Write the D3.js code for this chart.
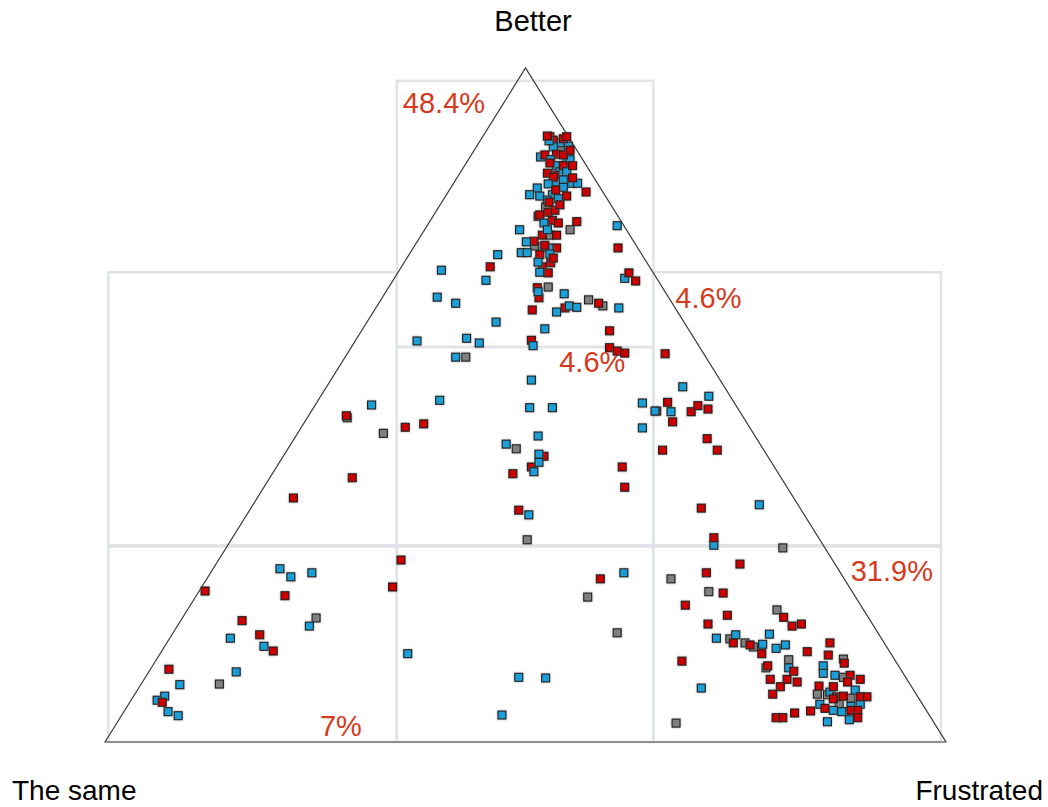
<!DOCTYPE html>
<html>
<head>
<meta charset="utf-8">
<script src="https://cdn.jsdelivr.net/npm/d3@7"></script>
<style>
  html, body { margin: 0; padding: 0; background: #ffffff; }
  svg { display: block; font-family: "Liberation Sans", Arial, sans-serif; }
</style>
</head>
<body>
<svg id="chart" width="1048" height="807"></svg>
<script>
// ---------------- DATA ----------------
const cornerLabels = ["Better", "The same", "Frustrated"];

// region boundaries (in chart units 0-100)
const regionNames = ["top", "leftMid", "center", "rightMid", "bottomLeft", "bottomCenter", "bottomRight"];
const regionX0 = [34.7, 0.4, 34.7, 65.2, 0.4, 34.7, 65.2];
const regionX1 = [65.2, 34.7, 65.2, 99.4, 34.7, 65.2, 99.4];
const regionY0 = [58.6, 29.0, 29.0, 29.0, 0, 0, 0];
const regionY1 = [98.1, 69.7, 58.6, 69.7, 29.2, 29.2, 29.2];
const regionShare = ["48.4%", "", "4.6%", "4.6%", "7%", "", "31.9%"];

const redPoints = [
  [52.9,89.8],[53.3,89.3],[54.5,89.5],[52.6,89.9],[54.9,89.8],[52.3,87.1],[53.7,87.2],[54.5,87.1],
  [52.9,85.9],[54.5,85.5],[55.6,85.5],[52.6,84.4],[53.5,84.1],[53.3,83.8],[55.6,83.7],[57.2,81.6],
  [52.7,78.6],[51.5,78.0],[53.2,77.4],[53.9,77.0],[51.7,78.2],[53.5,78.9],[56.1,77.2],[52.0,75.2],
  [53.7,75.2],[51.0,74.3],[53.7,73.3],[51.7,72.3],[53.0,71.1],[52.0,70.5],[52.7,69.6],[51.4,67.4],
  [51.6,65.9],[45.8,70.5],[61.0,73.3],[62.3,69.6],[63.1,68.4],[58.7,65.1],[54.7,64.4],[50.8,64.1],
  [60.0,61.0],[50.7,59.6],[60.0,58.5],[60.9,58.0],[61.8,57.7],[66.6,57.6],
  [53.6,81.9],[54.9,81.0],[52.8,80.1],[54.1,79.7],[52.3,73.7],[53.3,71.8],[55.3,87.8],
  [35.7,46.7],[37.9,47.2],[52.2,42.4],[50.7,40.8],[48.5,39.8],[49.2,34.4],[61.5,40.8],[61.8,37.8],
  [66.9,50.4],[65.6,49.1],[69.7,49.0],[70.5,49.9],[71.7,49.4],[67.5,47.5],[71.6,45.0],[66.3,43.3],
  [72.8,43.3],[70.9,34.7],[72.4,30.3],[28.7,48.4],[29.4,39.2],[22.4,36.2],
  [35.2,27.0],[34.2,23.0],[11.9,22.4],[21.4,21.7],[16.3,18.0],[18.4,15.9],[20.0,13.5],[7.6,10.8],[6.8,5.9],
  [58.9,24.2],[75.5,26.4],[71.5,25.1],[73.5,22.1],[69.0,20.3],[74.0,18.8],[71.7,17.5],[80.7,18.5],
  [81.7,17.2],[82.8,17.5],[74.7,14.7],[76.7,14.4],[78.1,13.1],[83.5,13.4],[86.2,14.7],[86.0,12.9],
  [68.6,12.0],[87.9,11.7],[78.8,11.3],[81.9,10.5],[79.1,9.3],[81.1,9.3],[82.3,8.9],[80.3,8.2],
  [88.6,9.9],[89.8,9.3],[88.3,8.9],[79.4,7.1],[84.9,8.3],[86.6,8.2],[87.0,6.7],[87.8,6.8],
  [89.8,6.7],[90.6,6.7],[86.6,6.4],[83.9,4.6],[85.6,5.0],[88.7,4.7],[89.5,4.7],[82.0,4.3],
  [79.8,3.6],[80.6,3.6],[89.5,3.6]
];

const bluePoints = [
  [54.1,88.9],[55.1,88.4],[53.3,88.3],[52.8,89.2],[51.8,86.8],[54.9,86.5],[55.3,86.4],[53.0,86.4],
  [53.7,85.5],[54.1,84.6],[54.9,84.6],[53.7,83.1],[54.5,83.4],[55.5,82.9],[56.2,82.9],[52.7,82.8],
  [54.5,82.3],[51.4,82.2],[50.5,81.2],[51.7,81.0],[53.2,81.2],[52.6,80.4],[53.9,80.6],[52.2,77.0],
  [52.6,76.0],[49.3,76.0],[50.1,74.2],[52.8,73.3],[49.5,72.6],[50.2,72.6],[46.7,72.3],[51.5,71.2],
  [51.7,69.7],[40.0,70.0],[60.9,76.6],[61.8,68.8],[52.9,72.4],[51.5,66.8],[54.6,66.5],[45.3,68.5],
  [39.5,66.0],[41.7,65.1],[53.7,63.8],[55.2,64.7],[56.1,64.5],[61.1,64.4],[46.5,62.3],[52.3,61.3],
  [37.1,59.5],[43.0,59.9],[44.5,59.2],[50.9,58.8],[41.7,57.1],[50.7,53.7],[39.8,50.7],[50.5,49.6],
  [53.2,49.6],[51.5,45.4],[47.7,44.2],[51.6,42.7],[51.6,41.5],[51.0,40.1],[50.4,33.7],[68.7,52.7],
  [63.9,50.3],[71.8,51.3],[65.4,49.1],[67.3,49.0],[63.9,46.6],[77.8,35.2],[72.4,29.2],[31.7,50.0],
  [20.8,25.7],[22.1,24.5],[24.6,25.1],[24.3,17.2],[14.9,15.4],[18.9,14.2],[15.6,10.4],[8.9,8.5],
  [7.1,6.8],[6.2,6.2],[7.5,4.5],[8.7,3.9],[36.0,13.1],[49.2,9.6],[52.4,9.5],[47.2,4.0],[61.7,25.1],
  [72.7,15.4],[75.0,15.9],[78.2,14.5],[79.0,16.0],[79.8,13.9],[80.9,14.4],[81.3,11.0],[85.4,11.3],
  [85.4,10.2],[86.8,9.9],[70.9,8.0],[85.0,5.6],[88.7,5.3],[89.8,5.6],[86.6,4.7],[87.6,4.5],
  [85.9,3.0],[88.5,3.3],[86.2,7.4],[89.2,7.7]
];

const grayPoints = [
  [54.2,88.3],[54.3,84.0],[52.4,79.4],[52.9,75.2],[55.3,76.0],[51.1,73.6],[52.0,73.4],[52.7,67.5],
  [57.5,65.6],[59.2,64.7],[42.9,57.1],[33.1,45.8],[28.8,48.1],[48.9,43.5],[50.2,30.0],[25.1,18.4],
  [13.6,8.6],[57.4,21.5],[60.9,16.2],[80.6,28.8],[67.3,24.2],[71.8,22.3],[79.9,19.6],[74.3,15.3],
  [76.1,14.7],[77.1,14.1],[81.3,12.2],[87.8,12.3],[78.6,11.0],[87.8,9.6],[84.7,7.1],[85.9,7.0],
  [88.7,6.5],[87.3,5.6],[67.9,2.8]
];

// ---------------- LAYOUT / STYLE ----------------
const seriesColor = { red: "#cc0000", blue: "#1a9ed6", gray: "#808080" };
const labelColor = "#d63a1d";
const gridColor = "#e1e4e7";

const svg = d3.select("#chart");
const x = d3.scaleLinear().domain([0, 100]).range([105, 946]);
const y = d3.scaleLinear().domain([0, 100]).range([742, 68]);

// halo filter for markers
const defs = svg.append("defs");
const f = defs.append("filter").attr("id", "halo").attr("x", "-50%").attr("y", "-50%").attr("width", "200%").attr("height", "200%");
f.append("feDropShadow").attr("dx", 0).attr("dy", 0).attr("stdDeviation", 1.2)
  .attr("flood-color", "#777").attr("flood-opacity", 0.6);

// region boxes
const regions = regionNames.map((n, i) => ({
  name: n, x0: regionX0[i], x1: regionX1[i], y0: regionY0[i], y1: regionY1[i], share: regionShare[i]
}));

svg.append("g").selectAll("rect").data(regions).join("rect")
  .attr("x", d => x(d.x0))
  .attr("y", d => y(d.y1))
  .attr("width", d => x(d.x1) - x(d.x0))
  .attr("height", d => y(d.y0) - y(d.y1))
  .attr("fill", "none")
  .attr("stroke", gridColor)
  .attr("stroke-width", 2.5);

// triangle
const tri = [[0, 0], [50, 100], [100, 0]];
svg.append("path")
  .attr("d", d3.line().x(d => x(d[0])).y(d => y(d[1]))(tri) + "Z")
  .attr("fill", "none")
  .attr("stroke", "#3a3a3a")
  .attr("stroke-width", 1.2);

// share labels (placement relative to each region box)
const labelPlacement = {
  top:         { anchor: "start", corner: "tl", dx: 6,   dy: 32 },
  center:      { anchor: "end",   corner: "tr", dx: -28, dy: 25 },
  rightMid:    { anchor: "start", corner: "tl", dx: 22,  dy: 36 },
  bottomLeft:  { anchor: "end",   corner: "br", dx: -35, dy: -6 },
  bottomRight: { anchor: "end",   corner: "tr", dx: -8,  dy: 36 }
};
svg.append("g").selectAll("text").data(regions.filter(d => d.share)).join("text")
  .attr("x", d => {
    const p = labelPlacement[d.name];
    return (p.corner[1] === "l" ? x(d.x0) : x(d.x1)) + p.dx;
  })
  .attr("y", d => {
    const p = labelPlacement[d.name];
    return (p.corner[0] === "t" ? y(d.y1) : y(d.y0)) + p.dy;
  })
  .attr("text-anchor", d => labelPlacement[d.name].anchor)
  .attr("fill", labelColor)
  .attr("font-size", 29)
  .text(d => d.share);

// points (interleaved so colors mix like the original)
const pts = [];
const n = Math.max(redPoints.length, bluePoints.length, grayPoints.length);
for (let i = 0; i < n; i++) {
  if (i < grayPoints.length) pts.push({ c: "gray", v: grayPoints[i] });
  if (i < bluePoints.length) pts.push({ c: "blue", v: bluePoints[i] });
  if (i < redPoints.length) pts.push({ c: "red", v: redPoints[i] });
}
const S = 8;
svg.append("g").selectAll("rect").data(pts).join("rect")
  .attr("x", d => x(d.v[0]) - S / 2)
  .attr("y", d => y(d.v[1]) - S / 2)
  .attr("width", S).attr("height", S)
  .attr("fill", d => seriesColor[d.c])
  .attr("stroke", "#1b1b1b")
  .attr("stroke-width", 1.1)
  .attr("filter", "url(#halo)");

// corner labels
svg.append("text").attr("x", 533).attr("y", 31).attr("text-anchor", "middle")
  .attr("font-size", 29).attr("fill", "#000").text(cornerLabels[0]);
svg.append("text").attr("x", 12).attr("y", 800).attr("text-anchor", "start")
  .attr("font-size", 28).attr("fill", "#000").text(cornerLabels[1]);
svg.append("text").attr("x", 1043).attr("y", 800).attr("text-anchor", "end")
  .attr("font-size", 28).attr("fill", "#000").text(cornerLabels[2]);
</script>
</body>
</html>
